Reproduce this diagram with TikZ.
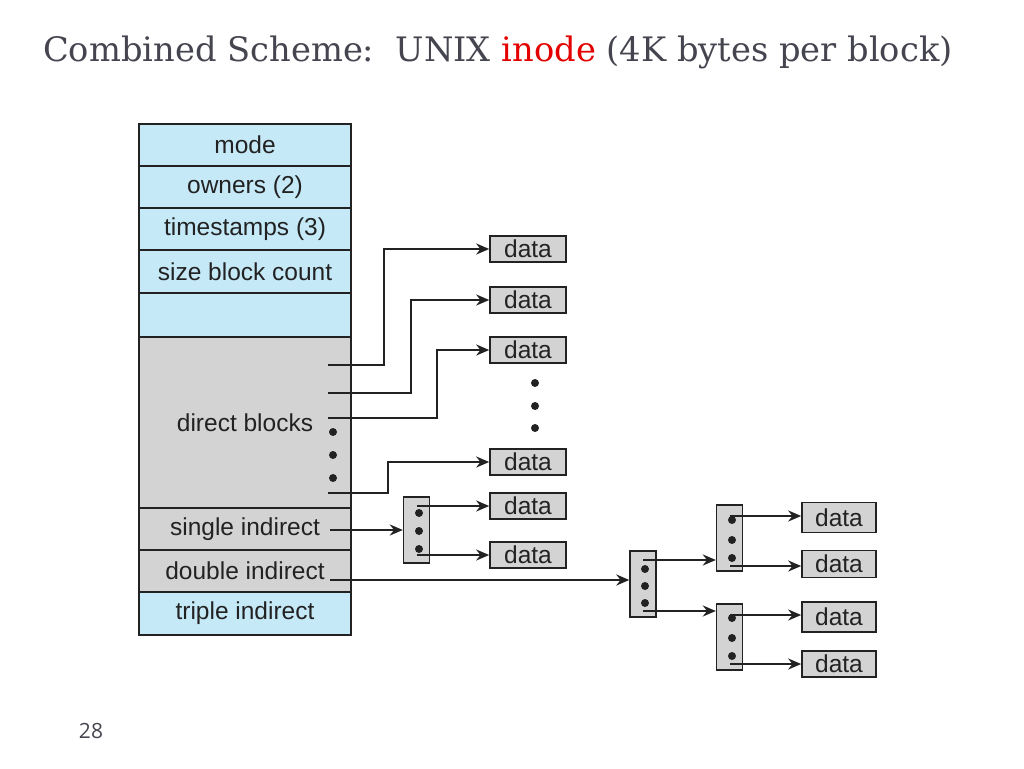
\documentclass[tikz,border=0pt]{standalone}
\usepackage{fontspec}
\setmainfont{Liberation Sans}
\newfontfamily\titlefont{DejaVu Serif}
\newfontfamily\numfont{Open Sans}
\usetikzlibrary{arrows.meta,calc}
\definecolor{inblue}{HTML}{C6E9F8}
\definecolor{ingray}{HTML}{D3D3D3}
\definecolor{titlegray}{HTML}{454550}
\definecolor{linec}{HTML}{222222}
\tikzset{
  row/.style={draw=linec, line width=1.6pt, minimum width=212pt, inner sep=0pt, font=\fontsize{24.5}{28}\selectfont, text=linec},
  bluerow/.style={row, fill=inblue},
  grayrow/.style={row, fill=ingray},
  databox/.style={draw=linec, line width=1.6pt, fill=ingray, inner sep=0pt, minimum width=76pt, minimum height=26pt, font=\fontsize{24.5}{28}\selectfont, text=linec},
  idxbox/.style={draw=linec, line width=1.4pt, fill=ingray, inner sep=0pt, minimum width=26pt, minimum height=66pt},
  ptr/.style={draw=linec, line width=2.6pt, -{Stealth[length=13pt,width=11pt]}},
  dotc/.style={fill=linec, circle, inner sep=0pt, minimum size=8pt},
}
\begin{document}
\begin{tikzpicture}[x=1pt,y=-1pt]
\useasboundingbox (0,0) rectangle (1024,768);
% title
\node[anchor=base west, inner sep=0pt, font=\titlefont\fontsize{33.7}{38}\selectfont, text=titlegray] (title) at (43,61)
  {Combined Scheme:\ \ UNIX \textcolor{red!90!black}{inode} (4K bytes per block)};
\node[anchor=base, inner sep=0pt, font=\numfont\fontsize{21}{24}\selectfont, text=titlegray] (pnum) at (91,738) {28};
% inode rows
\node[bluerow, minimum height=42pt] (mode) at (245,145) {mode};
\node[bluerow, minimum height=42pt] (owners) at (245,187) {owners (2)};
\node[bluerow, minimum height=42pt] (ts) at (245,229) {timestamps (3)};
\node[bluerow, minimum height=43pt] (size) at (245,271.5) {size block count};
\node[bluerow, minimum height=44pt] (empty) at (245,315) {};
\node[grayrow, minimum height=171pt] (direct) at (245,422.5) {direct blocks};
\node[grayrow, minimum height=42pt] (single) at (245,529) {single indirect};
\node[grayrow, minimum height=42pt] (double) at (245,571) {double indirect};
\node[bluerow, minimum height=43pt] (triple) at (245,613.5) {triple indirect};
% direct data boxes
\node[databox] (d1) at (528,249) {data};
\node[databox] (d2) at (528,300) {data};
\node[databox] (d3) at (528,350) {data};
\node[databox] (d4) at (528,462) {data};
\node[dotc] (v1) at (535,383) {};
\node[dotc] (v2) at (535,406) {};
\node[dotc] (v3) at (535,428) {};
% direct pointers
\coordinate (p1) at (328,365);
\coordinate (p2) at (328,393);
\coordinate (p3) at (328,418);
\coordinate (p4) at (328,493);
\node[dotc] (q1) at (333,432) {};
\node[dotc] (q2) at (333,455) {};
\node[dotc] (q3) at (333,478) {};
\draw[ptr] (p1) -- ++(56,0) |- (d1.west);
\draw[ptr] (p2) -- ++(83,0) |- (d2.west);
\draw[ptr] (p3) -- ++(109,0) |- (d3.west);
\draw[ptr] (p4) -- ++(60,0) |- (d4.west);
% single indirect
\node[idxbox] (ib1) at (416.5,530) {};
\node[dotc] at (419,513) {};
\node[dotc] at (419,531) {};
\node[dotc] at (419,549) {};
\node[databox] (s1) at (528,506) {data};
\node[databox] (s2) at (528,555) {data};
\coordinate (si) at (330,530);
\draw[ptr] (si) -- (ib1.west);
\coordinate (b1a) at (417,506);
\coordinate (b1b) at (417,555);
\draw[ptr] (b1a) -- (b1a -| s1.west);
\draw[ptr] (b1b) -- (b1b -| s2.west);
% double indirect
\node[idxbox] (ib2) at (643,584) {};
\node[dotc] at (645,569) {};
\node[dotc] at (645,586) {};
\node[dotc] at (645,603) {};
\coordinate (di) at (330,580);
\draw[ptr] (di) -- (di -| ib2.west);
\node[idxbox] (ib3) at (729.5,538) {};
\node[dotc] at (732,520) {};
\node[dotc] at (732,540) {};
\node[dotc] at (732,558) {};
\node[idxbox] (ib4) at (729.5,637) {};
\node[dotc] at (732,618) {};
\node[dotc] at (732,638) {};
\node[dotc] at (732,656) {};
\coordinate (b2a) at (643,560);
\coordinate (b2b) at (643,611);
\draw[ptr] (b2a) -- (b2a -| ib3.west);
\draw[ptr] (b2b) -- (b2b -| ib4.west);
\node[databox, minimum width=74pt, minimum height=30pt] (e1) at (839,517.5) {data};
\node[databox, minimum width=74pt, minimum height=27pt] (e2) at (839,564) {data};
\node[databox, minimum width=74pt, minimum height=30pt] (e3) at (839,617) {data};
\node[databox, minimum width=74pt, minimum height=26pt] (e4) at (839,664) {data};
\coordinate (b3a) at (730,516);
\coordinate (b3b) at (730,566);
\coordinate (b4a) at (730,615);
\coordinate (b4b) at (730,664);
\draw[ptr] (b3a) -- (b3a -| e1.west);
\draw[ptr] (b3b) -- (b3b -| e2.west);
\draw[ptr] (b4a) -- (b4a -| e3.west);
\draw[ptr] (b4b) -- (b4b -| e4.west);
\end{tikzpicture}
\end{document}
